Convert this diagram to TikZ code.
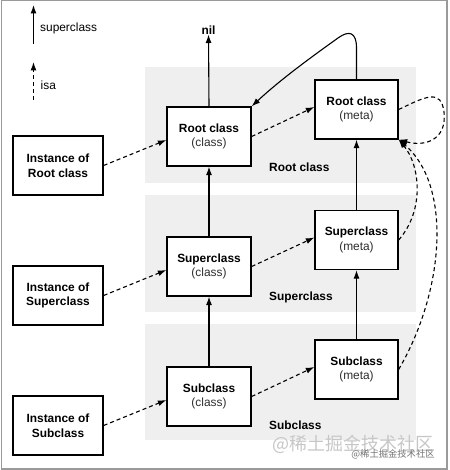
\documentclass[tikz,border=0pt]{standalone}
\usepackage{fontspec}
\setmainfont{Liberation Sans}
\newfontfamily\cjkfont{Noto Sans CJK SC}
\usetikzlibrary{arrows.meta}
\definecolor{band}{HTML}{EFEFEF}
\definecolor{frame}{HTML}{9A9A9A}
\tikzset{
  boxnode/.style={draw=black, line width=1.3pt, fill=white, align=center, inner sep=0pt,
    font=\fontsize{11.9}{14.5}\selectfont, text=black},
  clsbox/.style={boxnode, minimum width=84pt, minimum height=59pt},
  metabox/.style={boxnode, minimum width=83pt, minimum height=59pt},
  instbox/.style={boxnode, minimum width=90pt, minimum height=59pt},
  bandrect/.style={fill=band, draw=none},
  suparrow/.style={line width=1.1pt, -{Latex[length=8.5pt,width=6pt]}},
  isaarrow/.style={line width=1.1pt, dash pattern=on 4pt off 3pt, -{Latex[length=8.5pt,width=6pt]}},
  lbl/.style={font=\fontsize{11.9}{14}\selectfont, inner sep=0pt},
  bandlbl/.style={font=\bfseries\fontsize{11.9}{14}\selectfont, anchor=west, inner sep=0pt}
}
\newcommand{\sub}[1]{{\mdseries\color{black!82}#1}}
\begin{document}
\begin{tikzpicture}[x=1pt,y=-1pt]
\useasboundingbox (0,0) rectangle (449,470);
\fill[white] (0,0) rectangle (449,470);
\draw[frame, line width=1.2pt] (1.5,0.6) rectangle (447,469);
% bands
\fill[bandrect] (145,67) rectangle (416,183);
\fill[bandrect] (145,195) rectangle (416,312);
\fill[bandrect] (145,324) rectangle (416,440);
\node[bandlbl] (lroot) at (269,167) {Root class};
\node[bandlbl] (lsuper) at (269,297) {Superclass};
\node[bandlbl] (lsubc) at (269,425) {Subclass};
% legend
\coordinate (lg1a) at (33.5,44);
\coordinate (lg1b) at (33.5,5);
\draw[suparrow] (lg1a) -- (lg1b);
\node[lbl, anchor=west] (lgsup) at (40,28) {superclass};
\coordinate (lg2a) at (33.5,100);
\coordinate (lg2b) at (33.5,62);
\draw[isaarrow] (lg2a) -- (lg2b);
\node[lbl, anchor=west] (lgisa) at (40.5,85) {isa};
% nil
\node[lbl, font=\bfseries\fontsize{11.9}{14}\selectfont] (nil) at (208.5,30) {nil};
% boxes
\node[clsbox] (rc) at (209,136.5) {\textbf{Root class}\\\sub{(class)}};
\node[metabox] (rm) at (356.5,109.5) {\textbf{Root class}\\\sub{(meta)}};
\node[instbox] (ri) at (58,165.5) {\textbf{Instance of}\\\textbf{Root class}};
\node[clsbox] (sc) at (209,266.5) {\textbf{Superclass}\\\sub{(class)}};
\node[metabox] (sm) at (356.5,240) {\textbf{Superclass}\\\sub{(meta)}};
\node[instbox] (si) at (58,295.5) {\textbf{Instance of}\\\textbf{Superclass}};
\node[clsbox] (bc) at (209,396.5) {\textbf{Subclass}\\\sub{(class)}};
\node[metabox] (bm) at (356.5,369.5) {\textbf{Subclass}\\\sub{(meta)}};
\node[instbox] (bi) at (58,425.5) {\textbf{Instance of}\\\textbf{Subclass}};
% superclass arrows
\draw[suparrow] (rc.north) -- (nil.south);
\draw[suparrow] (sc.north) -- (rc.south);
\draw[suparrow] (bc.north) -- (sc.south);
\draw[suparrow] (sm.north) -- (rm.south);
\draw[suparrow] (bm.north) -- (sm.south);
\draw[suparrow] (rm.north) -- (356.5,48) .. controls (356.5,32) and (349,30) .. (338,38)
   .. controls (310,58) and (280,80) .. (rc.north east);
% isa arrows
\draw[isaarrow] (ri.east) -- ([yshift=-3.5pt]rc.west);
\draw[isaarrow] (si.east) -- ([yshift=-3.5pt]sc.west);
\draw[isaarrow] (bi.east) -- ([yshift=-3.5pt]bc.west);
\draw[isaarrow] (rc.east) -- ([yshift=2.5pt]rm.west);
\draw[isaarrow] (sc.east) -- ([yshift=2.5pt]sm.west);
\draw[isaarrow] (bc.east) -- ([yshift=2.5pt]bm.west);
\draw[isaarrow] (rm.east) .. controls (425,97) and (441,88) .. (444,112)
   .. controls (447,140) and (425,147) .. (rm.south east);
\draw[isaarrow] (sm.east) .. controls (425,210) and (420,165) .. (rm.south east);
\draw[isaarrow] (bm.east) .. controls (445,290) and (452,185) .. (rm.south east);
% watermark
\node[font=\cjkfont\fontsize{18}{20}\selectfont, text=black!22, inner sep=0pt] (wm1) at (353,444) {@稀土掘金技术社区};
\node[font=\cjkfont\fontsize{9.3}{11}\selectfont, text=black!55, inner sep=0pt] (wm2) at (393,454) {@稀土掘金技术社区};
\end{tikzpicture}
\end{document}
